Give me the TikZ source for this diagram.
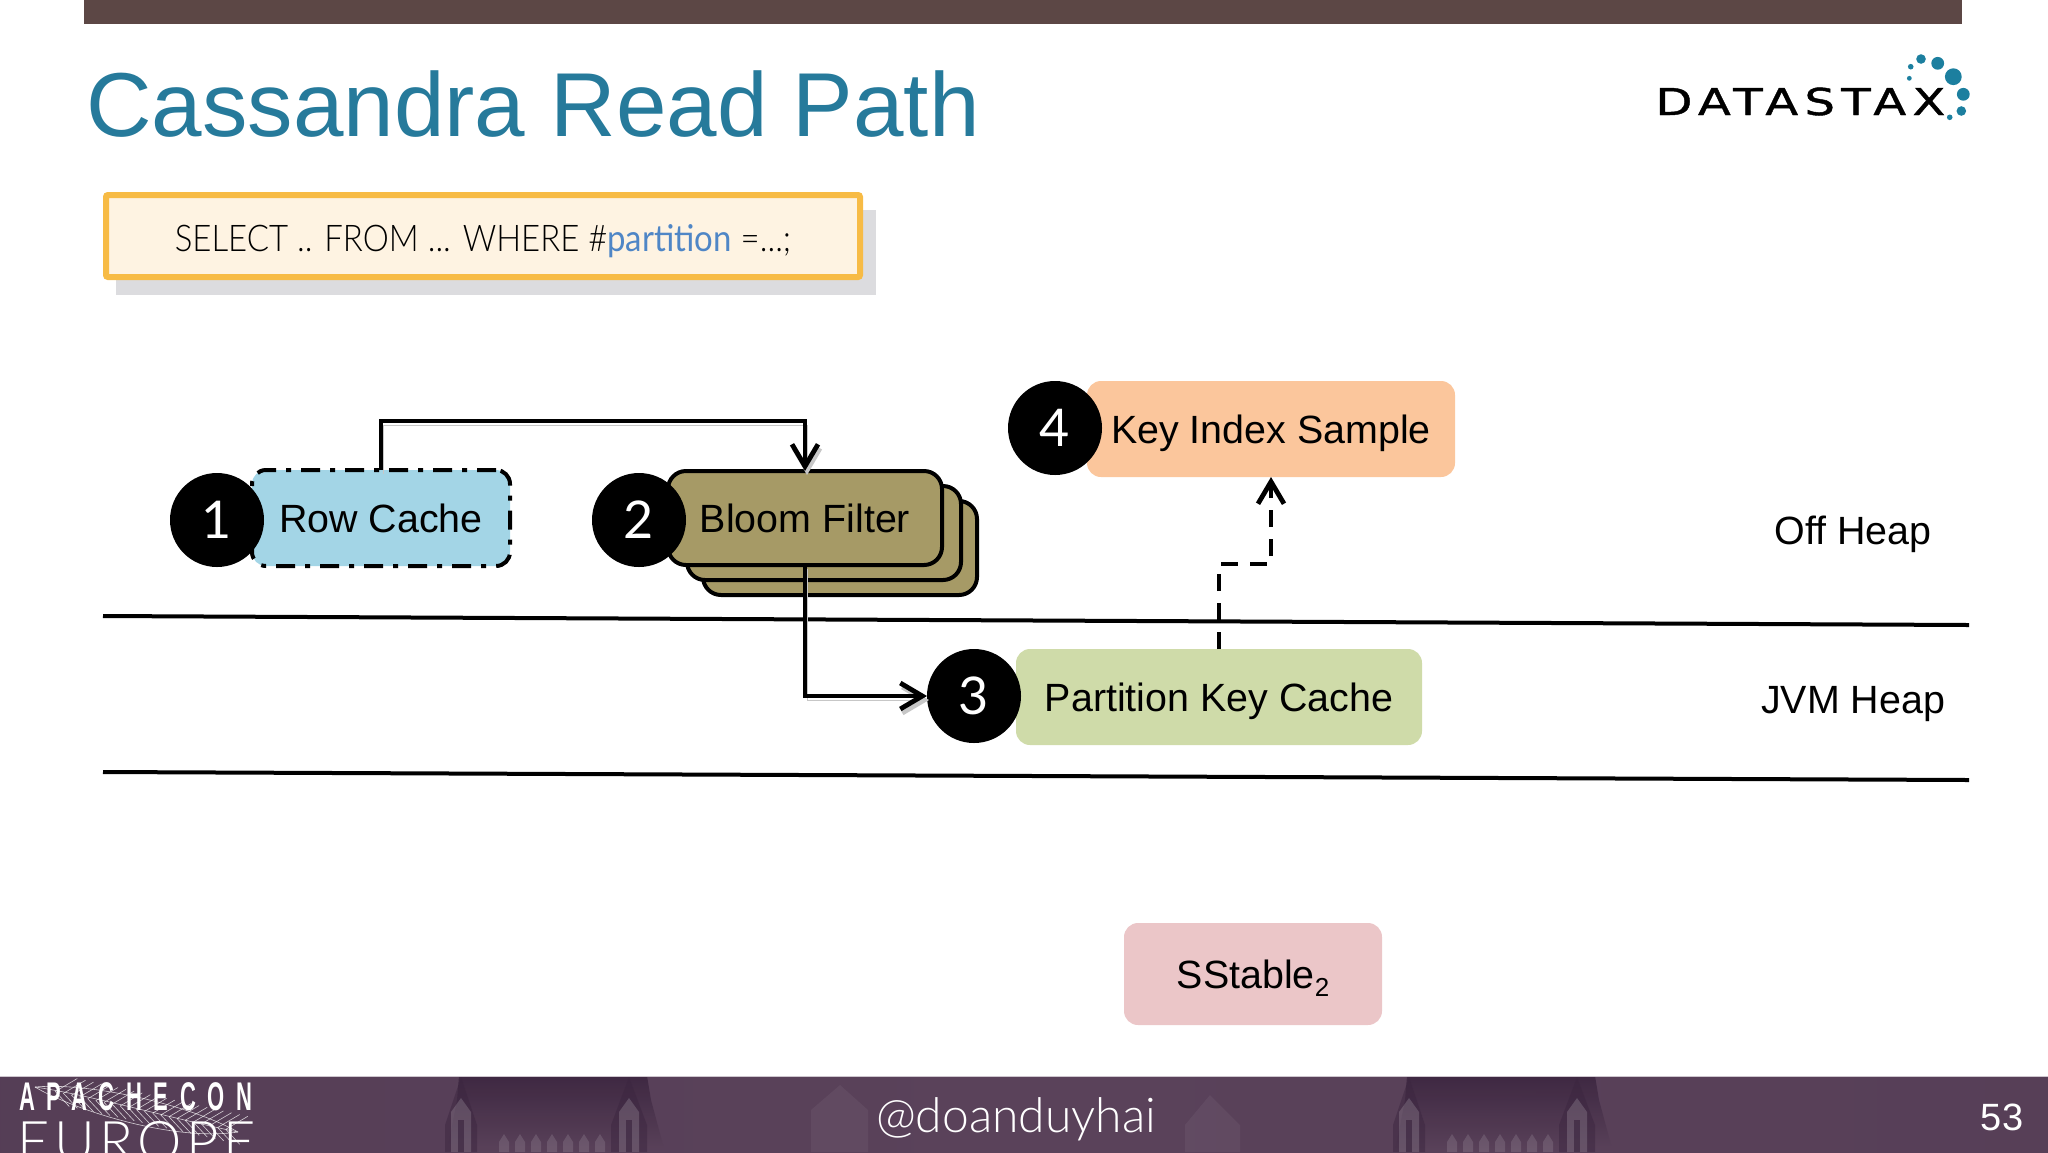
\documentclass[tikz,border=0pt]{standalone}
\usepackage{fontspec}
\setmainfont{Liberation Sans}
\newfontfamily\lightfont{Lato Light}
\newfontfamily\digitfont{Lato}
\newfontfamily\queryfont[FakeStretch=0.895]{Lato Light}
\newfontfamily\partfont[FakeStretch=0.895]{Lato}
\newfontfamily\logofont[FakeStretch=1.3,FakeBold=1.2,LetterSpace=17]{DejaVu Sans}
\newfontfamily\apachefont[FakeStretch=0.55,LetterSpace=29]{Liberation Sans Bold}
\newfontfamily\europefont[LetterSpace=8]{Lato Light}
\usetikzlibrary{arrows.meta}

\definecolor{barbrown}{HTML}{5C4745}
\definecolor{titleteal}{HTML}{267A9B}
\definecolor{logoteal}{HTML}{1C7F9F}
\definecolor{queryfill}{HTML}{FEF3E2}
\definecolor{queryedge}{HTML}{F7BB45}
\definecolor{queryshadow}{HTML}{DCDCDF}
\definecolor{partblue}{HTML}{4F86C6}
\definecolor{rowblue}{HTML}{A3D5E6}
\definecolor{bloomolive}{HTML}{A69A66}
\definecolor{keyorange}{HTML}{FBC69C}
\definecolor{pkgreen}{HTML}{CFDBA9}
\definecolor{sstpink}{HTML}{EBC6C8}
\definecolor{footdark}{HTML}{351E3A}
\definecolor{footmid}{HTML}{5A425A}
\definecolor{towerdark}{HTML}{3C2640}

\pgfdeclarehorizontalshading{footshade}{100bp}{
  color(0bp)=(footdark); color(10bp)=(footdark!80!footmid); color(20bp)=(footmid!85!footdark);
  color(50bp)=(footmid); color(80bp)=(footmid!90!footdark); color(92bp)=(footdark!80!footmid); color(100bp)=(footdark)}

\begin{document}
\begin{tikzpicture}[x=0.5pt,y=-0.5pt]

\tikzset{box/.style={rounded corners=7pt, minimum height=48pt, inner sep=0pt, outer sep=0pt, text height=14pt, text depth=0pt, font=\fontsize{19.7}{23}\selectfont},
badge/.style={circle, fill=black, text=white, minimum size=47pt, inner sep=0pt, outer sep=0pt, text height=18.5pt, text depth=0pt, font=\digitfont\fontsize{26}{30}\selectfont},
bloomcard/.style={box, draw=black, line width=2pt, fill=bloomolive, rounded corners=9pt, minimum width=137pt, minimum height=47pt},
flow/.style={black, line width=2.2pt, -{Straight Barb[length=11pt,width=13pt,line width=2.4pt]}},
flowshade/.style={flow, preaction={draw=black!22, transform canvas={xshift=1pt,yshift=-2pt}}},
side/.style={font=\fontsize{19.7}{23}\selectfont, inner sep=0pt, text height=14pt, text depth=0pt},
heapline/.style={black, line width=2pt},
logodot/.style={fill=logoteal, draw=none},
feather/.style={white, line width=0.3pt, opacity=0.75}}

\useasboundingbox (0,0) rectangle (2048,1152);

% top bar and title
\fill [barbrown] (84,0) rectangle (1962,24);

\node (title) [anchor=base west, inner sep=0pt, text=titleteal, font=\fontsize{45.4}{54}\selectfont] at (86,136) {Cassandra Read Path};

\node (logo) [anchor=base west, inner sep=0pt, font=\logofont\fontsize{18.5}{22}\selectfont] at (1655,115) {DATASTAX};
\fill [logodot] (1921,59) circle (2.4pt);
\fill [logodot] (1937.7,63.3) circle (3.2pt);
\fill [logodot] (1953.3,76.7) circle (4.2pt);
\fill [logodot] (1963.3,94.3) circle (3.2pt);
\fill [logodot] (1961.3,111) circle (2.4pt);
\fill [logodot] (1949.7,117.3) circle (1.4pt);
\fill [logodot] (1910.7,66.7) circle (1.4pt);
\fill [logodot] (1909.3,78.3) circle (1.2pt);

% query box
\fill [queryshadow] (116,210) rectangle (876,295);
\node (query) [draw=queryedge, fill=queryfill, line width=3pt, rounded corners=1pt, minimum width=377pt, minimum height=41pt, inner sep=0pt, text height=15.5pt, text depth=0pt, font=\queryfont\fontsize{18.4}{22}\selectfont] at (483,236) {SELECT .. FROM ... WHERE \#\textcolor{partblue}{\partfont partition} =...;};

% heap levels
\draw [heapline] (103,616) -- (1969,625);
\draw [heapline] (103,772) -- (1969,780);

\node (offheap) [side] at (1853,530) {Off Heap};
\node (jvmheap) [side] at (1853,699) {JVM Heap};

% bloom filter stack
\node (bloomc) [bloomcard] at (840,548) {};
\node (bloomb) [bloomcard] at (824,533) {};

% boxes
\node (rowcache) [box, fill=rowblue, draw=black, line width=2pt, dash pattern=on 9.5pt off 5pt on 2.5pt off 5pt, minimum width=129pt] at (381,518) {Row Cache};
\node (bloom) [bloomcard] at (805,518) {Bloom Filter};
\node (pkcache) [box, fill=pkgreen, minimum width=203pt] at (1219,697) {Partition Key Cache};
\node (keysample) [box, fill=keyorange, minimum width=184pt] at (1271,429) {Key Index Sample};
\node (sstable) [box, fill=sstpink, minimum width=129pt, minimum height=51pt] at (1253,974) {SStable\raisebox{-4pt}{\fontsize{13}{15}\selectfont 2}};

% numbers
\node (one) [badge] at (217,520) {1};
\node (two) [badge] at (639,520) {2};
\node (three) [badge] at (974,696) {3};
\node (four) [badge] at (1055,428) {4};

% connectors
\draw [flowshade] (rowcache.north) -- ++(0,-49) -| (bloom.north);
\draw [flowshade] (bloom.south) |- (three.west);
\draw [flow, dash pattern=on 8.5pt off 6pt] (pkcache.north) -- ++(0,-85) -| (keysample.south);

% footer band
\shade [shading=footshade] (0,1076) rectangle (2048,1152);
\draw [white!70!footmid, line width=0.5pt] (0,1076) -- (2048,1076);

\begin{scope}
\clip (0,1077) rectangle (2048,1152);
\foreach \bx in {439,1387} {
\shade [top color=towerdark, bottom color=footmid, opacity=0.9] (\bx+8,1152) -- (\bx+18,1100) -- (\bx+20,1076) -- (\bx+208,1076) -- (\bx+212,1100) -- (\bx+226,1152) -- cycle;
\fill [towerdark, opacity=0.5] (\bx+6,1152) -- (\bx+6,1125) -- (\bx+22,1077) -- (\bx+38,1125) -- (\bx+38,1152) -- cycle;
\fill [towerdark, opacity=0.5] (\bx+172,1152) -- (\bx+172,1125) -- (\bx+190,1077) -- (\bx+208,1125) -- (\bx+208,1152) -- cycle;
\foreach \tw in {12,180} {
\fill [white, opacity=0.16] (\bx+\tw,1152) -- (\bx+\tw,1112) -- (\bx+\tw+10,1098) -- (\bx+\tw+20,1112) -- (\bx+\tw+20,1152) -- cycle;
\fill [towerdark, opacity=0.7] (\bx+\tw+7,1152) rectangle (\bx+\tw+13,1120);
}
\foreach \ar in {60,76,...,156} {
\fill [white, opacity=0.12] (\bx+\ar,1152) -- (\bx+\ar,1142) -- (\bx+\ar+5,1134) -- (\bx+\ar+10,1142) -- (\bx+\ar+10,1152) -- cycle;
}
}
\fill [white, opacity=0.05] (811,1152) -- (811,1110) -- (840,1085) -- (868,1110) -- (868,1152) -- cycle;
\fill [white, opacity=0.05] (1185,1152) -- (1185,1125) -- (1210,1095) -- (1240,1125) -- (1240,1152) -- cycle;
\end{scope}

% feather
\draw [feather] (35,1087) .. controls (90,1095) and (170,1118) .. (238,1132);
\draw [feather] (35,1087) .. controls (90,1082) and (190,1105) .. (238,1132);
\draw [feather] (35,1087) .. controls (70,1108) and (170,1142) .. (238,1132);
\foreach \t in {0.1,0.14,...,0.95} {
\draw [feather] (35+203*\t,1087+45*\t) -- ++(22,-13);
\draw [feather] (35+203*\t,1087+45*\t) -- ++(14,15);
}

\node (apache) [anchor=base west, inner sep=0pt, text=white, font=\apachefont\fontsize{20}{24}\selectfont] at (19,1110) {APACHECON};
\node (europe) [anchor=base west, inner sep=0pt, text=white, font=\europefont\fontsize{28}{34}\selectfont] at (17,1161) {EUROPE};
\node (handle) [anchor=base, text=white, inner sep=0pt, font=\lightfont\fontsize{24}{28}\selectfont] at (1016,1132) {@doanduyhai};
\node (pagenum) [anchor=base, text=white, inner sep=0pt, font=\fontsize{19}{23}\selectfont] at (2002,1130) {53};

\end{tikzpicture}
\end{document}
